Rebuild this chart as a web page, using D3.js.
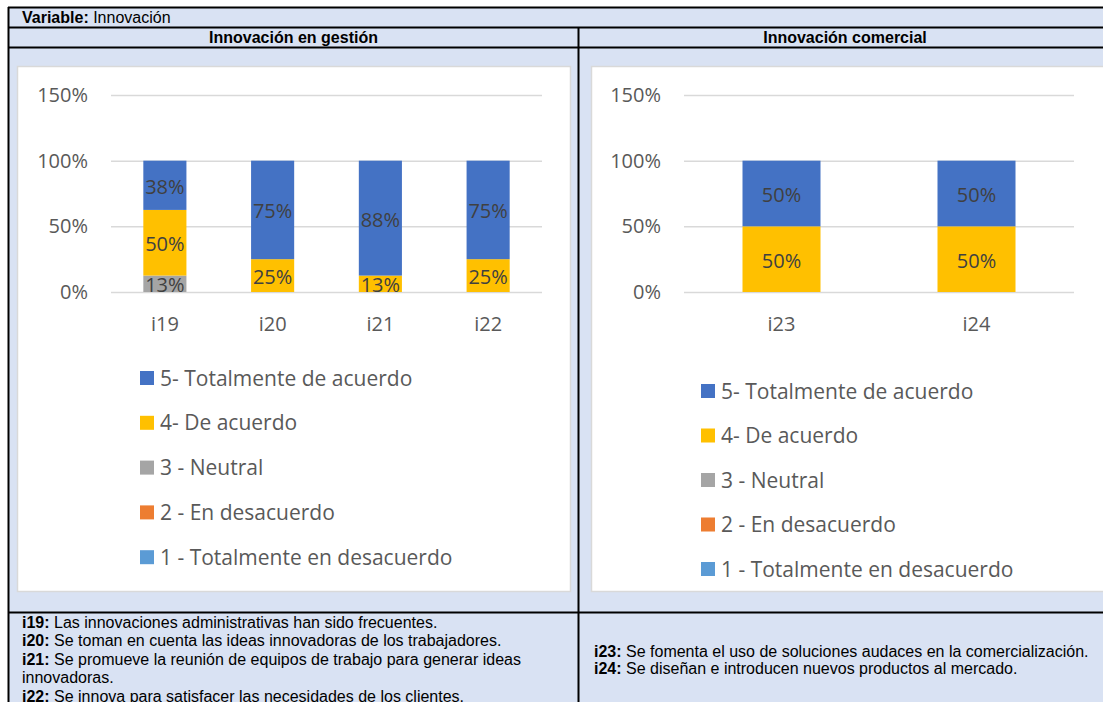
<!DOCTYPE html>
<html><head><meta charset="utf-8">
<script src="https://cdn.jsdelivr.net/npm/d3@7"></script>
<style>body{margin:0;background:#fff;} svg{display:block;}</style>
</head><body>
<svg id="c" width="1103" height="702"></svg>
<script>
// ---- data ----
const seriesNames = ["1 - Totalmente en desacuerdo","2 - En desacuerdo","3 - Neutral","4- De acuerdo","5- Totalmente de acuerdo"];
const seriesColors = ["#5B9BD5","#ED7D31","#A5A5A5","#FFC000","#4472C4"];
const yTicks = [0, 0.5, 1, 1.5];

const gestionItems = ["i19","i20","i21","i22"];
const gestionS1 = [0, 0, 0, 0];
const gestionS2 = [0, 0, 0, 0];
const gestionS3 = [0.125, 0, 0, 0];
const gestionS4 = [0.5, 0.25, 0.125, 0.25];
const gestionS5 = [0.375, 0.75, 0.875, 0.75];

const comercialItems = ["i23","i24"];
const comercialS1 = [0, 0];
const comercialS2 = [0, 0];
const comercialS3 = [0, 0];
const comercialS4 = [0.5, 0.5];
const comercialS5 = [0.5, 0.5];

const variableLabel = "Variable:";
const variableName = " Innovación";
const headerGestion = "Innovación en gestión";
const headerComercial = "Innovación comercial";
const notesGestion = [
  ["i19:", " Las innovaciones administrativas han sido frecuentes."],
  ["i20:", " Se toman en cuenta las ideas innovadoras de los trabajadores."],
  ["i21:", " Se promueve la reunión de equipos de trabajo para generar ideas"],
  ["", "innovadoras."],
  ["i22:", " Se innova para satisfacer las necesidades de los clientes."]
];
const notesComercial = [
  ["i23:", " Se fomenta el uso de soluciones audaces en la comercialización."],
  ["i24:", " Se diseñan e introducen nuevos productos al mercado."]
];

// ---- drawing ----
const svg = d3.select("#c");
const TABLE_BG = "#D9E2F3";
const tableFont = "'Liberation Sans', Arial, sans-serif";
const chartFont = "'Open Sans', 'Noto Sans', sans-serif";
const TF = 16;

// table background
svg.append("rect").attr("x", 8).attr("y", 8).attr("width", 1110).attr("height", 700).attr("fill", TABLE_BG);

// chart boxes
svg.append("rect").attr("x", 17.5).attr("y", 66.5).attr("width", 553).attr("height", 525)
  .attr("fill", "#fff").attr("stroke", "#D9D9D9").attr("stroke-width", 1.5);
svg.append("rect").attr("x", 591.5).attr("y", 66.5).attr("width", 530).attr("height", 525)
  .attr("fill", "#fff").attr("stroke", "#D9D9D9").attr("stroke-width", 1.5);

// table lines
const lines = svg.append("g").attr("stroke", "#000").attr("stroke-width", 2);
[[8, 7.5, 1120, 7.5], [8, 27.5, 1120, 27.5], [8, 47.5, 1120, 47.5], [8, 612.5, 1120, 612.5],
 [8.5, 7, 8.5, 702], [578.5, 27, 578.5, 702]].forEach(l => {
  lines.append("line").attr("x1", l[0]).attr("y1", l[1]).attr("x2", l[2]).attr("y2", l[3]);
});

// header texts
const t1 = svg.append("text").attr("x", 22).attr("y", 23).attr("font-family", tableFont)
  .attr("font-size", TF).attr("fill", "#000");
t1.append("tspan").attr("font-weight", "bold").text(variableLabel);
t1.append("tspan").text(variableName);
svg.append("text").attr("x", 293.5).attr("y", 43).attr("text-anchor", "middle").attr("font-family", tableFont)
  .attr("font-size", TF).attr("font-weight", "bold").attr("fill", "#000").text(headerGestion);
svg.append("text").attr("x", 845).attr("y", 43).attr("text-anchor", "middle").attr("font-family", tableFont)
  .attr("font-size", TF).attr("font-weight", "bold").attr("fill", "#000").text(headerComercial);

// notes
function drawNotes(notes, x, y0, step) {
  notes.forEach((n, i) => {
    const t = svg.append("text").attr("x", x).attr("y", y0 + i * step).attr("font-family", tableFont)
      .attr("font-size", TF).attr("fill", "#000");
    if (n[0]) t.append("tspan").attr("font-weight", "bold").text(n[0]);
    t.append("tspan").text(n[1]);
  });
}
drawNotes(notesGestion, 22, 627.5, 18.5);
drawNotes(notesComercial, 594, 657, 16.5);

function drawChart(items, seriesArrays, cfg) {
  const g = svg.append("g");
  const y = d3.scaleLinear().domain([0, 1.5]).range([292, 95]);
  const x = d3.scaleBand().domain(items).range([cfg.x0, cfg.x1]).paddingInner(0.6).paddingOuter(0.3);

  // gridlines
  const grid = g.append("g").attr("transform", `translate(${cfg.x0},0)`)
    .call(d3.axisLeft(y).tickValues(yTicks).tickSize(-(cfg.x1 - cfg.x0)).tickFormat(""));
  grid.select(".domain").remove();
  grid.selectAll("line").attr("stroke", "#D9D9D9").attr("stroke-width", 1.5);

  // y labels
  const ya = g.append("g").attr("transform", `translate(${cfg.x0},0)`)
    .call(d3.axisLeft(y).tickValues(yTicks).tickSize(0).tickPadding(23).tickFormat(d3.format(".0%")));
  ya.select(".domain").remove();
  ya.selectAll("text").attr("font-family", chartFont).attr("font-size", 20).attr("fill", "#595959");

  // x labels
  const xa = g.append("g").attr("transform", `translate(0,292)`)
    .call(d3.axisBottom(x).tickSize(0).tickPadding(25));
  xa.select(".domain").remove();
  xa.selectAll("text").attr("font-family", chartFont).attr("font-size", 20).attr("fill", "#595959");

  // stack
  const rows = items.map((it, i) => {
    const r = { item: it };
    seriesArrays.forEach((s, k) => r["s" + k] = s[i]);
    return r;
  });
  const keys = seriesArrays.map((s, k) => "s" + k);
  const stacked = d3.stack().keys(keys)(rows);

  stacked.forEach((layer, k) => {
    const lg = g.append("g").attr("fill", seriesColors[k]);
    layer.forEach(d => {
      if (d[1] - d[0] <= 0) return;
      lg.append("rect").attr("x", x(d.data.item)).attr("width", x.bandwidth())
        .attr("y", y(d[1])).attr("height", y(d[0]) - y(d[1]));
    });
  });
  stacked.forEach((layer, k) => {
    layer.forEach(d => {
      const v = d[1] - d[0];
      if (v <= 0) return;
      g.append("text").attr("x", x(d.data.item) + x.bandwidth() / 2).attr("y", (y(d[0]) + y(d[1])) / 2)
        .attr("dy", "0.42em").attr("text-anchor", "middle").attr("font-family", chartFont)
        .attr("font-size", 20).attr("fill", "#404040").text(Math.round(v * 100) + "%");
    });
  });

  // legend (top: series 5 ... bottom: series 1)
  const order = [4, 3, 2, 1, 0];
  order.forEach((k, i) => {
    const cy = cfg.legY0 + i * cfg.legStep;
    g.append("rect").attr("x", cfg.legX).attr("y", cy - 7).attr("width", 14).attr("height", 14)
      .attr("fill", seriesColors[k]);
    g.append("text").attr("x", cfg.legX + 20).attr("y", cy).attr("dy", "0.36em")
      .attr("font-family", chartFont).attr("font-size", 21).attr("fill", "#595959").text(seriesNames[k]);
  });
}

drawChart(gestionItems, [gestionS1, gestionS2, gestionS3, gestionS4, gestionS5],
  { x0: 111, x1: 542, legX: 140, legY0: 378, legStep: 44.8 });
drawChart(comercialItems, [comercialS1, comercialS2, comercialS3, comercialS4, comercialS5],
  { x0: 684, x1: 1074, legX: 701, legY0: 391, legStep: 44.5 });
</script>
</body></html>
